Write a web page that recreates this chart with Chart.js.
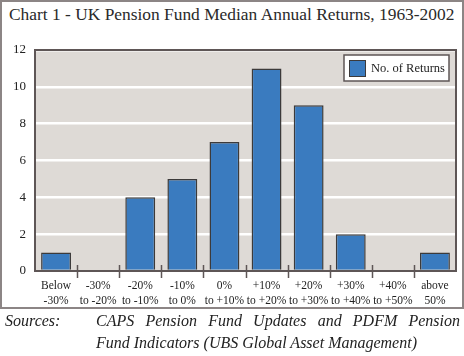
<!DOCTYPE html>
<html><head><meta charset="utf-8">
<script src="https://cdn.jsdelivr.net/npm/chart.js@4"></script>
<style>
html,body{margin:0;padding:0;background:#fff;}
#wrap{position:relative;width:464px;height:356px;overflow:hidden;font-family:"Liberation Serif","DejaVu Serif",serif;}
#frame{position:absolute;left:0;top:0;width:460px;height:305px;border:2px solid #8c8585;}
#title{position:absolute;left:9px;top:4px;font-size:17.4px;color:#2a2a2a;white-space:nowrap;}
canvas{position:absolute;left:0;top:0;}
.src{position:absolute;font-style:italic;font-size:16px;color:#222;white-space:nowrap;}
</style></head>
<body><div id="wrap">
<div id="frame"></div>
<div id="title">Chart 1 - UK Pension Fund Median Annual Returns, 1963-2002</div>
<canvas id="c" width="464" height="356"></canvas>
<div class="src" style="left:5px;top:312px;">Sources:</div>
<div class="src" style="left:96px;top:312px;width:364px;text-align:justify;text-align-last:justify;">CAPS Pension Fund Updates and PDFM Pension</div>
<div class="src" style="left:96px;top:334px;">Fund Indicators (UBS Global Asset Management)</div>
</div>
<script>
const categories = [["Below","-30%"],["-30%","to -20%"],["-20%","to -10%"],["-10%","to 0%"],["0%","to +10%"],["+10%","to +20%"],["+20%","to +30%"],["+30%","to +40%"],["+40%","to +50%"],["above","50%"]];
const returnsCount = [1,0,4,5,7,11,9,2,0,1];
const yTicks = [0,2,4,6,8,10,12];
const seriesName = "No. of Returns";

const plotDeco = {
  id:'plotDeco',
  beforeDraw(chart){
    const {ctx, chartArea:a} = chart;
    ctx.save();
    ctx.fillStyle = '#dedad6';
    ctx.fillRect(a.left, a.top, a.right-a.left, a.bottom-a.top);
    ctx.restore();
  },
  afterDatasetsDraw(chart){
    const {ctx, chartArea:a, scales:{x}} = chart;
    ctx.save();
    ctx.strokeStyle = '#5e5656';
    ctx.lineWidth = 2;
    ctx.strokeRect(a.left, a.top, a.right-a.left, a.bottom-a.top);
    ctx.lineWidth = 1.5;
    for (let i=1;i<categories.length;i++){
      const bx = Math.round((x.getPixelForValue(i-1)+x.getPixelForValue(i))/2)+0.5;
      ctx.beginPath();
      ctx.moveTo(bx, a.bottom-6);
      ctx.lineTo(bx, a.bottom+7);
      ctx.stroke();
    }
    ctx.restore();
  }
};

new Chart(document.getElementById('c'), {
  type:'bar',
  data:{labels:categories, datasets:[{label:seriesName, data:returnsCount, backgroundColor:'#3a7bbf', borderColor:'#3c3a3a', borderWidth:1.5, barPercentage:0.71, categoryPercentage:1}]},
  options:{
    responsive:false, animation:false, devicePixelRatio:1,
    layout:{padding:{top:50,right:8,left:0,bottom:49}},
    plugins:{
      legend:{display:false},
      tooltip:{enabled:false}
    },
    scales:{
      x:{
        offset:true,
        grid:{display:false, drawTicks:false},
        border:{display:false},
        ticks:{color:'#222', font:{family:'"Liberation Serif", serif', size:11.5, lineHeight:1.3}, padding:8, maxRotation:0, autoSkip:false},
        afterFit(s){ s.height = 36; }
      },
      y:{
        min:0, max:12,
        afterBuildTicks(s){ s.ticks = yTicks.map(v=>({value:v})); },
        grid:{color:'#ffffff', lineWidth:2.5, drawTicks:false},
        border:{display:false},
        ticks:{color:'#222', font:{family:'"Liberation Serif", serif', size:13}, padding:9},
        afterFit(s){ s.width = 35; }
      }
    }
  },
  plugins:[plotDeco, {
    id:'legendBox',
    afterDraw(chart){
      const {ctx, chartArea:a} = chart;
      const ds = chart.data.datasets[0];
      const bx = a.right-112, by = a.top+5, bw = 105, bh = 26;
      ctx.save();
      ctx.fillStyle = '#fff';
      ctx.fillRect(bx, by, bw, bh);
      ctx.strokeStyle = '#5e5656'; ctx.lineWidth = 1.5;
      ctx.strokeRect(bx, by, bw, bh);
      ctx.fillStyle = ds.backgroundColor;
      ctx.fillRect(bx+5, by+5, 17, 17);
      ctx.strokeStyle = '#3c3a3a'; ctx.lineWidth = 1;
      ctx.strokeRect(bx+5.5, by+5.5, 16, 16);
      ctx.fillStyle = '#222';
      ctx.font = '12.5px "Liberation Serif", serif';
      ctx.textBaseline = 'middle';
      ctx.fillText(ds.label, bx+27, by+bh/2+1);
      ctx.restore();
    }
  }]
});
</script>
</body></html>
